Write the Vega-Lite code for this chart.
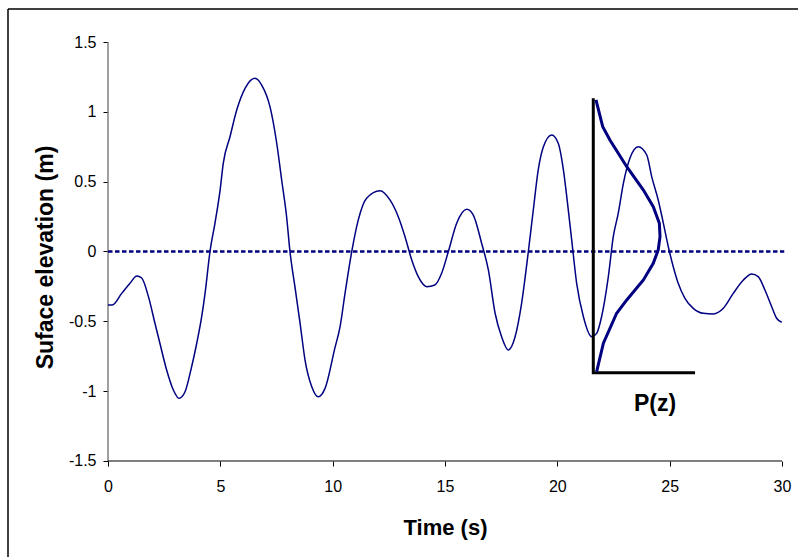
{
  "$schema": "https://vega.github.io/schema/vega-lite/v6.json",
  "description": "Surface elevation time series with probability density sketch",
  "width": 790,
  "height": 548,
  "autosize": "none",
  "padding": {"left": 8, "top": 9, "right": 0, "bottom": 0},
  "datasets": {
    "wave": [
      {"t": 0.0, "z": -0.383}, {"t": 0.19, "z": -0.383}, {"t": 0.61, "z": -0.3},
      {"t": 0.98, "z": -0.228}, {"t": 1.28, "z": -0.175}, {"t": 1.5, "z": -0.19},
      {"t": 1.8, "z": -0.323}, {"t": 2.09, "z": -0.514}, {"t": 2.31, "z": -0.657},
      {"t": 2.61, "z": -0.848}, {"t": 2.91, "z": -0.992}, {"t": 3.16, "z": -1.051},
      {"t": 3.43, "z": -1.004}, {"t": 3.69, "z": -0.848}, {"t": 3.95, "z": -0.657},
      {"t": 4.17, "z": -0.467}, {"t": 4.32, "z": -0.3}, {"t": 4.54, "z": 0.0},
      {"t": 4.76, "z": 0.202}, {"t": 4.99, "z": 0.44}, {"t": 5.13, "z": 0.631},
      {"t": 5.43, "z": 0.822}, {"t": 5.73, "z": 1.013}, {"t": 6.1, "z": 1.168},
      {"t": 6.54, "z": 1.24}, {"t": 6.84, "z": 1.192}, {"t": 7.21, "z": 1.037},
      {"t": 7.51, "z": 0.775}, {"t": 7.73, "z": 0.512}, {"t": 7.95, "z": 0.249},
      {"t": 8.1, "z": 0.0}, {"t": 8.32, "z": -0.252}, {"t": 8.55, "z": -0.514},
      {"t": 8.77, "z": -0.777}, {"t": 9.07, "z": -0.968}, {"t": 9.36, "z": -1.04},
      {"t": 9.66, "z": -0.98}, {"t": 10.1, "z": -0.69}, {"t": 10.33, "z": -0.538},
      {"t": 10.55, "z": -0.3}, {"t": 10.85, "z": 0.0}, {"t": 11.14, "z": 0.226},
      {"t": 11.51, "z": 0.381}, {"t": 12.11, "z": 0.435}, {"t": 12.55, "z": 0.369},
      {"t": 12.92, "z": 0.249}, {"t": 13.22, "z": 0.106}, {"t": 13.52, "z": -0.061},
      {"t": 13.81, "z": -0.18}, {"t": 14.19, "z": -0.252}, {"t": 14.55, "z": -0.24},
      {"t": 14.85, "z": -0.156}, {"t": 15.15, "z": 0.0}, {"t": 15.52, "z": 0.202},
      {"t": 15.97, "z": 0.302}, {"t": 16.26, "z": 0.261}, {"t": 16.63, "z": 0.059},
      {"t": 16.93, "z": -0.132}, {"t": 17.23, "z": -0.442}, {"t": 17.52, "z": -0.61},
      {"t": 17.82, "z": -0.705}, {"t": 18.12, "z": -0.61}, {"t": 18.41, "z": -0.371},
      {"t": 18.71, "z": 0.0}, {"t": 18.93, "z": 0.297}, {"t": 19.15, "z": 0.584},
      {"t": 19.38, "z": 0.75}, {"t": 19.75, "z": 0.834}, {"t": 20.04, "z": 0.775},
      {"t": 20.27, "z": 0.584}, {"t": 20.45, "z": 0.35}, {"t": 20.64, "z": 0.082},
      {"t": 20.86, "z": -0.228}, {"t": 21.16, "z": -0.467}, {"t": 21.53, "z": -0.61},
      {"t": 21.75, "z": -0.586}, {"t": 21.97, "z": -0.467}, {"t": 22.27, "z": -0.18},
      {"t": 22.49, "z": 0.106}, {"t": 22.71, "z": 0.273}, {"t": 22.94, "z": 0.488},
      {"t": 23.23, "z": 0.667}, {"t": 23.6, "z": 0.75}, {"t": 23.98, "z": 0.691},
      {"t": 24.2, "z": 0.536}, {"t": 24.49, "z": 0.369}, {"t": 24.72, "z": 0.202},
      {"t": 24.94, "z": 0.034}, {"t": 25.16, "z": -0.109}, {"t": 25.38, "z": -0.228},
      {"t": 25.68, "z": -0.335}, {"t": 26.05, "z": -0.407}, {"t": 26.5, "z": -0.443},
      {"t": 26.94, "z": -0.447}, {"t": 27.39, "z": -0.407}, {"t": 27.83, "z": -0.3},
      {"t": 28.28, "z": -0.204}, {"t": 28.65, "z": -0.161}, {"t": 28.94, "z": -0.18},
      {"t": 29.24, "z": -0.276}, {"t": 29.54, "z": -0.395}, {"t": 29.76, "z": -0.478},
      {"t": 29.99, "z": -0.507}
    ],
    "pdf": [
      {"p": 21.72, "z": 1.085}, {"p": 22.02, "z": 0.894}, {"p": 22.34, "z": 0.798},
      {"p": 23.09, "z": 0.607}, {"p": 23.83, "z": 0.44}, {"p": 24.27, "z": 0.321},
      {"p": 24.54, "z": 0.202}, {"p": 24.57, "z": 0.106}, {"p": 24.49, "z": 0.011},
      {"p": 24.27, "z": -0.084}, {"p": 23.83, "z": -0.204}, {"p": 23.09, "z": -0.347},
      {"p": 22.64, "z": -0.442}, {"p": 22.05, "z": -0.657}, {"p": 21.75, "z": -0.86}
    ],
    "pdfAxis": [
      {"k": 1, "p": 21.6, "z": 1.097},
      {"k": 2, "p": 21.6, "z": -0.868},
      {"k": 3, "p": 26.13, "z": -0.868}
    ]
  },
  "layer": [
    {
      "data": {"values": [{}]},
      "mark": {"type": "rule", "color": "#000000", "strokeWidth": 1.5},
      "encoding": {
        "x": {"datum": -4.451, "type": "quantitative", "scale": {"domain": [-4.451, 30.712], "nice": false, "zero": false}},
        "y": {"datum": -2.1874, "type": "quantitative", "scale": {"domain": [-2.1874, 1.7363], "nice": false, "zero": false}},
        "y2": {"datum": 1.7363}
      }
    },
    {
      "data": {"values": [{}]},
      "mark": {"type": "rule", "color": "#000000", "strokeWidth": 1.5},
      "encoding": {
        "x": {"datum": -4.451, "type": "quantitative", "scale": {"domain": [-4.451, 30.712], "nice": false, "zero": false}},
        "x2": {"datum": 30.712},
        "y": {"datum": 1.7363, "type": "quantitative", "scale": {"domain": [-2.1874, 1.7363], "nice": false, "zero": false}}
      }
    },
    {
      "data": {"values": [{}]},
      "mark": {"type": "rule", "color": "#808080", "strokeWidth": 1.5},
      "encoding": {
        "x": {"datum": 0, "type": "quantitative", "scale": {"domain": [-4.451, 30.712], "nice": false, "zero": false}},
        "y": {"datum": -1.5, "type": "quantitative", "scale": {"domain": [-2.1874, 1.7363], "nice": false, "zero": false}},
        "y2": {"datum": 1.5}
      }
    },
    {
      "data": {"values": [{}]},
      "mark": {"type": "rule", "color": "#000000", "strokeWidth": 1},
      "encoding": {
        "x": {"datum": 0, "type": "quantitative", "scale": {"domain": [-4.451, 30.712], "nice": false, "zero": false}},
        "x2": {"datum": 30},
        "y": {"datum": -1.5, "type": "quantitative", "scale": {"domain": [-2.1874, 1.7363], "nice": false, "zero": false}}
      }
    },
    {
      "data": {"values": [{}]},
      "mark": {"type": "rule", "color": "#000080", "strokeWidth": 2.5, "strokeDash": [4.5, 2.5]},
      "encoding": {
        "x": {"datum": 0, "type": "quantitative", "scale": {"domain": [-4.451, 30.712], "nice": false, "zero": false}},
        "x2": {"datum": 30.1},
        "y": {"datum": 0, "type": "quantitative", "scale": {"domain": [-2.1874, 1.7363], "nice": false, "zero": false}}
      }
    },
    {
      "data": {"name": "wave"},
      "mark": {"type": "line", "color": "#000080", "strokeWidth": 1.5, "interpolate": "monotone"},
      "encoding": {
        "x": {
          "field": "t",
          "type": "quantitative",
          "scale": {"domain": [-4.451, 30.712], "nice": false, "zero": false},
          "axis": {
            "values": [0, 5, 10, 15, 20, 25, 30],
            "offset": -96,
            "domain": false,
            "grid": false,
            "tickSize": 5,
            "tickColor": "#000000",
            "labelFontSize": 16,
            "labelColor": "#000000",
            "labelPadding": 12,
            "labelFlush": false,
            "labelOverlap": false,
            "labelExpr": "'' + datum.value",
            "title": "Time (s)",
            "titleFontSize": 22,
            "titleFontWeight": "bold",
            "titleColor": "#000000",
            "titleAlign": "center",
            "titleBaseline": "alphabetic",
            "titleX": 437,
            "titleY": 73
          }
        },
        "y": {
          "field": "z",
          "type": "quantitative",
          "scale": {"domain": [-2.1874, 1.7363], "nice": false, "zero": false},
          "axis": {
            "values": [-1.5, -1, -0.5, 0, 0.5, 1, 1.5],
            "offset": -100,
            "domain": false,
            "grid": false,
            "tickSize": 5,
            "tickColor": "#000000",
            "labelFontSize": 16,
            "labelColor": "#000000",
            "labelPadding": 7,
            "labelFlush": false,
            "labelOverlap": false,
            "labelExpr": "'' + datum.value",
            "title": "Suface elevation (m)",
            "titleFontSize": 23,
            "titleFontWeight": "bold",
            "titleColor": "#000000",
            "titleAngle": -90,
            "titleAlign": "center",
            "titleBaseline": "alphabetic",
            "titleX": -56,
            "titleY": 248
          }
        }
      }
    },
    {
      "data": {"name": "pdfAxis"},
      "mark": {"type": "line", "color": "#000000", "strokeWidth": 3},
      "encoding": {
        "x": {"field": "p", "type": "quantitative", "scale": {"domain": [-4.451, 30.712], "nice": false, "zero": false}},
        "y": {"field": "z", "type": "quantitative", "scale": {"domain": [-2.1874, 1.7363], "nice": false, "zero": false}},
        "order": {"field": "k", "type": "quantitative"}
      }
    },
    {
      "data": {"name": "pdf"},
      "mark": {"type": "line", "color": "#000080", "strokeWidth": 3},
      "encoding": {
        "x": {"field": "p", "type": "quantitative", "scale": {"domain": [-4.451, 30.712], "nice": false, "zero": false}},
        "y": {"field": "z", "type": "quantitative", "scale": {"domain": [-2.1874, 1.7363], "nice": false, "zero": false}},
        "order": {"field": "z", "type": "quantitative", "sort": "descending"}
      }
    },
    {
      "data": {"values": [{}]},
      "mark": {"type": "text", "text": "P(z)", "fontSize": 23, "fontWeight": "bold", "color": "#000000", "align": "center", "baseline": "middle"},
      "encoding": {
        "x": {"datum": 24.35, "type": "quantitative", "scale": {"domain": [-4.451, 30.712], "nice": false, "zero": false}},
        "y": {"datum": -1.09, "type": "quantitative", "scale": {"domain": [-2.1874, 1.7363], "nice": false, "zero": false}}
      }
    }
  ],
  "config": {
    "font": "Liberation Sans",
    "view": {"stroke": null}
  }
}
